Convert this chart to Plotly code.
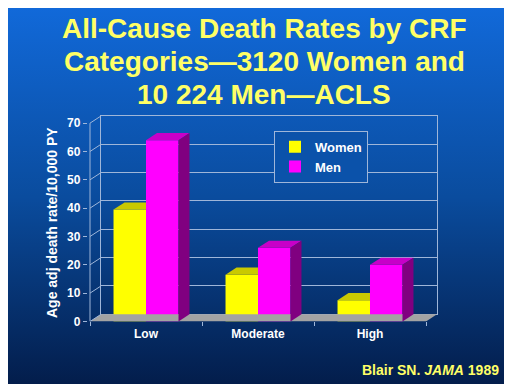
import base64
import plotly.graph_objects as go

# ---- data ----
categories = ["Low", "Moderate", "High"]
women = [39.5, 16.5, 7.5]
men = [64, 26, 20]
y_ticks = [0, 10, 20, 30, 40, 50, 60, 70]
title_lines = ["All-Cause Death Rates by CRF",
               "Categories\u20143120 Women and",
               "10 224 Men\u2014ACLS"]
y_title = "Age adj death rate/10,000 PY"
source_text = "Blair SN. <i>JAMA</i> 1989"

# ---- geometry (pixels -> layout) ----
W, H = 512, 384
PXU_X = 112.0          # px per category unit
PXU_Y = 2.886          # px per value unit
X0_PX = 138.0          # pixel x of first category centre
Y0_PX = 319.3          # pixel y of value 0 (front)
DX_PX, DY_PX = 11.0, 7.3
dxu = DX_PX / PXU_X
dyu = DY_PX / PXU_Y
eps = 0.02
BW = 0.29              # bar width in category units
n = len(categories)
xs = list(range(n))
ymax = y_ticks[-1]

fx_rng = [-0.5 - eps, n - 0.5 + dxu]
fy_rng = [0, ymax + dyu]
fx_dom = [(X0_PX + fx_rng[0] * PXU_X) / W, (X0_PX + fx_rng[1] * PXU_X) / W]
fy_dom = [(H - Y0_PX) / H, (H - Y0_PX + fy_rng[1] * PXU_Y) / H]
bx_rng = [-0.5, n - 0.5]
by_rng = [0, ymax]
bx_dom = [(X0_PX + (-0.5 + dxu) * PXU_X) / W, fx_dom[1]]
by_dom = [(H - Y0_PX + DY_PX) / H, fy_dom[1]]

grid_col = "#9fb6d9"
font_fam = "Liberation Sans, Arial, sans-serif"

fig = go.Figure()

# back-wall subplot anchor trace (no visible marks)
fig.add_trace(go.Scatter(x=[None], y=[None], mode="lines", xaxis="x", yaxis="y",
                         showlegend=False, hoverinfo="skip"))

# floor
fig.add_trace(go.Scatter(
    x=[-0.5, n - 0.5, n - 0.5 + dxu, -0.5 + dxu, -0.5],
    y=[0, 0, dyu, dyu, 0], fill="toself", mode="lines",
    line=dict(width=0, color="#a3a3a3"), fillcolor="#a3a3a3",
    xaxis="x2", yaxis="y2", showlegend=False, hoverinfo="skip"))

# left wall: front vertical line + diagonal tick connectors
lx, ly = [-0.5, -0.5, None], [0, ymax, None]
for v in y_ticks:
    lx += [-0.5, -0.5 + dxu, None]
    ly += [v, v + dyu, None]
fig.add_trace(go.Scatter(x=lx, y=ly, mode="lines", line=dict(color=grid_col, width=1),
                         xaxis="x2", yaxis="y2", showlegend=False, hoverinfo="skip"))

# front faces
fig.add_trace(go.Bar(x=xs, y=women, name="Women", offset=-BW, width=BW,
                     marker=dict(color="#ffff00", line=dict(width=0)),
                     xaxis="x2", yaxis="y2"))
fig.add_trace(go.Bar(x=xs, y=men, name="Men", offset=0, width=BW,
                     marker=dict(color="#ff00ff", line=dict(width=0)),
                     xaxis="x2", yaxis="y2"))

def poly(px, py, color):
    fig.add_trace(go.Scatter(x=px, y=py, fill="toself", mode="lines",
                             line=dict(width=0, color=color), fillcolor=color,
                             xaxis="x2", yaxis="y2", showlegend=False, hoverinfo="skip"))

for i, (w, m) in enumerate(zip(women, men)):
    x0, x1 = i - BW, i
    poly([x0, x1, x1, x0 + dxu, x0], [w, w, w + dyu, w + dyu, w], "#c9c900")
    x0, x1 = i, i + BW
    poly([x0, x1, x1 + dxu, x0 + dxu, x0], [m, m, m + dyu, m + dyu, m], "#c800c8")
    poly([x1, x1 + dxu, x1 + dxu, x1, x1], [0, dyu, m + dyu, m, 0], "#800080")

svg = ('<svg xmlns="http://www.w3.org/2000/svg" width="512" height="384">'
       '<defs><linearGradient id="g" x1="0" y1="0" x2="0" y2="1">'
       '<stop offset="0" stop-color="#1169d9"/>'
       '<stop offset="0.5" stop-color="#0a4c9e"/>'
       '<stop offset="1" stop-color="#031d4b"/>'
       '</linearGradient></defs><rect width="512" height="384" fill="url(#g)"/></svg>')
src = "data:image/svg+xml;base64," + base64.b64encode(svg.encode()).decode()

annotations = []
for k, line in enumerate(title_lines):
    annotations.append(dict(text=line, xref="paper", yref="paper", x=0.5,
                            y=1 - (21 + 33.5 * k) / H, xanchor="center", yanchor="middle",
                            showarrow=False,
                            font=dict(size=28, color="#ffff66", family=font_fam, weight="bold")))
annotations += [
    dict(text=y_title, xref="paper", yref="paper", x=44 / W, y=1 - 219 / H,
         xanchor="center", yanchor="middle", textangle=-90, showarrow=False,
         font=dict(size=14, color="white", family=font_fam, weight="bold")),
    dict(text=source_text, xref="paper", yref="paper", x=493 / W, y=1 - 369 / H,
         xanchor="right", yanchor="middle", showarrow=False,
         font=dict(size=14, color="#ffff66", family=font_fam, weight="bold")),
]

fig.update_layout(
    width=W, height=H, autosize=False,
    margin=dict(l=0, r=0, t=0, b=0),
    paper_bgcolor="#0a4c9e", plot_bgcolor="rgba(0,0,0,0)",
    barmode="overlay",
    font=dict(family=font_fam, color="white"),
    images=[dict(source=src, xref="paper", yref="paper", x=0, y=1, sizex=1, sizey=1,
                 xanchor="left", yanchor="top", sizing="stretch", layer="below")],
    xaxis=dict(domain=bx_dom, range=bx_rng, anchor="y", showgrid=False, zeroline=False,
               showticklabels=False, ticks="", showline=True, mirror=True,
               linecolor=grid_col, linewidth=1, fixedrange=True),
    yaxis=dict(domain=by_dom, range=by_rng, anchor="x", tickvals=y_ticks, showgrid=True,
               gridcolor=grid_col, gridwidth=1, zeroline=False, showticklabels=False,
               ticks="", showline=True, mirror=True, linecolor=grid_col, linewidth=1,
               fixedrange=True),
    xaxis2=dict(domain=fx_dom, range=fx_rng, anchor="y2", tickvals=xs, ticktext=categories,
                showgrid=False, zeroline=False, showline=False, ticks="",
                ticklabelstandoff=4,
                tickfont=dict(size=12, color="white", weight="bold"),
                minor=dict(tickvals=[-0.5, 0.5, 1.5, 2.5], ticks="outside", ticklen=4,
                           tickcolor=grid_col, showgrid=False),
                fixedrange=True),
    yaxis2=dict(domain=fy_dom, range=fy_rng, anchor="x2", tickvals=y_ticks,
                showgrid=False, zeroline=False, showline=False, ticks="outside",
                ticklen=4, tickcolor=grid_col,
                tickfont=dict(size=12, color="white", weight="bold"),
                fixedrange=True),
    legend=dict(x=266 / W, y=1 - 125 / H, xanchor="left", yanchor="top",
                bgcolor="#0b52aa", bordercolor=grid_col, borderwidth=1,
                font=dict(size=13, color="white", weight="bold"),
                itemwidth=30, tracegroupgap=0),
    showlegend=True,
    annotations=annotations,
)

fig.write_html("out.html")
